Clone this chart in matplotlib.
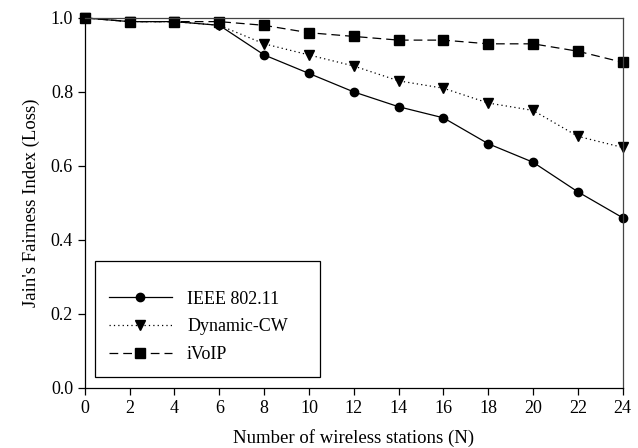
import numpy as np
import matplotlib.pyplot as plt

plt.rcParams['font.family'] = ['Liberation Serif', 'DejaVu Serif']

# 数据
stations = [0, 2, 4, 6, 8, 10, 12, 14, 16, 18, 20, 22, 24]
ieee = [1.0, 0.99, 0.99, 0.98, 0.90, 0.85, 0.80, 0.76, 0.73, 0.66, 0.61, 0.53, 0.46]
dynamic_cw = [1.0, 0.99, 0.99, 0.98, 0.93, 0.90, 0.87, 0.83, 0.81, 0.77, 0.75, 0.68, 0.65]
ivoip = [1.0, 0.99, 0.99, 0.99, 0.98, 0.96, 0.95, 0.94, 0.94, 0.93, 0.93, 0.91, 0.88]

fig = plt.figure(figsize=(6.38, 4.48), dpi=100)
ax = fig.add_axes([0.133, 0.134, 0.843, 0.826])

ax.plot(stations, ieee, color='black', linestyle='-', linewidth=0.9,
        marker='o', markersize=6, label='IEEE 802.11', clip_on=False)
ax.plot(stations, dynamic_cw, color='black', linestyle=(0, (1, 2.5)), linewidth=0.9,
        marker='v', markersize=7, label='Dynamic-CW', clip_on=False)
ax.plot(stations, ivoip, color='black', linestyle=(0, (7, 4)), linewidth=0.9,
        marker='s', markersize=6.5, label='iVoIP', clip_on=False)

ax.set_xlim(0, 24)
ax.set_ylim(0, 1.0)
ax.set_xticks(np.arange(0, 25, 2))
ax.set_yticks([0.0, 0.2, 0.4, 0.6, 0.8, 1.0])
ax.set_yticklabels(['0.0', '0.2', '0.4', '0.6', '0.8', '1.0'])

for spine in ax.spines.values():
    spine.set_linewidth(0.9)
ax.spines['top'].set_color('#444444')
ax.spines['right'].set_color('#444444')

ax.tick_params(direction='out', length=5, width=0.9, labelsize=13, top=False, right=False)

ax.set_xlabel('Number of wireless stations (N)', fontsize=13.5, labelpad=9)
ax.set_ylabel("Jain's Fairness Index (Loss)", fontsize=13.5, labelpad=8)

# 图例
leg = ax.legend(loc='lower left', bbox_to_anchor=(0.019, 0.03, 0.418, 0.2), mode='expand',
                borderaxespad=0, fancybox=False, edgecolor='black', framealpha=1, fontsize=13,
                handlelength=3.5, borderpad=0.75, labelspacing=0.6, handletextpad=0.85,
                title=' ', title_fontsize=5)
leg.get_frame().set_linewidth(0.9)

fig.savefig('out.png', dpi=100)
